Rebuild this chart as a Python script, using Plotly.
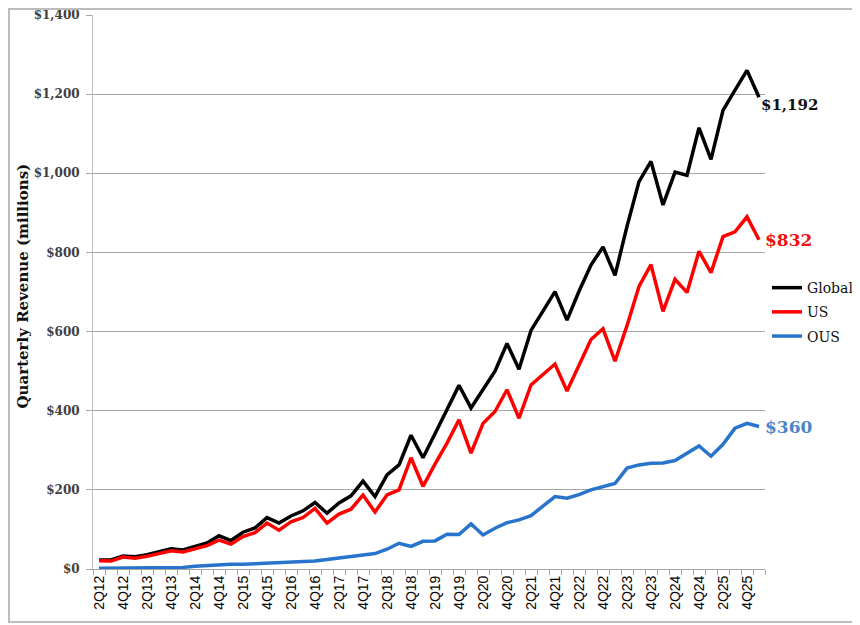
import plotly.graph_objects as go

QUARTERS = [
    '2Q12', '3Q12', '4Q12', '1Q13', '2Q13', '3Q13', '4Q13', '1Q14',
    '2Q14', '3Q14', '4Q14', '1Q15', '2Q15', '3Q15', '4Q15', '1Q16',
    '2Q16', '3Q16', '4Q16', '1Q17', '2Q17', '3Q17', '4Q17', '1Q18',
    '2Q18', '3Q18', '4Q18', '1Q19', '2Q19', '3Q19', '4Q19', '1Q20',
    '2Q20', '3Q20', '4Q20', '1Q21', '2Q21', '3Q21', '4Q21', '1Q22',
    '2Q22', '3Q22', '4Q22', '1Q23', '2Q23', '3Q23', '4Q23', '1Q24',
    '2Q24', '3Q24', '4Q24', '1Q25', '2Q25', '3Q25', '4Q25', '1Q26',
]

GLOBAL_REV = [
    23, 23, 33, 31, 36, 43, 51, 48, 57, 66, 84, 72, 93, 104, 130, 116,
    134, 147, 168, 141, 167, 185, 222, 183, 238, 263, 338, 281, 342, 402,
    464, 407, 452, 500, 570, 505, 603, 653, 701, 629, 702, 768, 814, 742,
    866, 979, 1030, 920, 1003, 995, 1115, 1035, 1159, 1210, 1260, 1192,
]

US_REV = [
    21, 20, 30, 27, 32, 38, 46, 43, 51, 59, 73, 63, 82, 92, 116, 98,
    119, 130, 153, 116, 139, 151, 187, 144, 187, 200, 281, 209, 265, 318,
    377, 293, 368, 398, 453, 381, 465, 491, 518, 450, 515, 580, 607, 525,
    615, 714, 769, 651, 732, 699, 803, 749, 840, 852, 890, 832,
]

OUS_REV = [
    2, 2, 3, 3, 3, 4, 4, 4, 7, 9, 11, 12, 12, 13, 15, 17,
    16, 18, 20, 24, 28, 33, 35, 39, 50, 65, 57, 70, 71, 88,
    87, 114, 86, 103, 117, 124, 135, 159, 183, 179, 188, 200, 208, 216,
    255, 263, 267, 268, 274, 292, 311, 285, 315, 356, 368, 360,
]

SERIES_NAMES = ['Global', 'US', 'OUS']
SERIES_COLORS = ['#000000', '#ff0000', '#2874cc']
LABEL_COLORS = ['#111111', '#ee1111', '#4a86c8']

Y_TICKS = [0, 200, 400, 600, 800, 1000, 1200, 1400]
Y_TICK_TEXT = ['$0', '$200', '$400', '$600', '$800', '$1,000', '$1,200', '$1,400']

SERIF = 'DejaVu Serif, Liberation Serif, serif'

fig = go.Figure()
for name, values, color in zip(SERIES_NAMES, [GLOBAL_REV, US_REV, OUS_REV], SERIES_COLORS):
    fig.add_trace(go.Scatter(
        x=QUARTERS,
        y=values,
        mode='lines',
        name=name,
        legendgroup=name,  # separate groups so tracegroupgap spaces the rows
        line=dict(color=color, width=3.5),
    ))

# end-of-line value labels
label_style = zip([GLOBAL_REV, US_REV, OUS_REV], LABEL_COLORS, [15, 17, 17], [0, 4, 4], [-8, 0, 0])
for values, color, size, xshift, yshift in label_style:
    fig.add_annotation(
        x=QUARTERS[-1], y=values[-1],
        text='<b>${:,}</b>'.format(values[-1]),
        showarrow=False,
        xanchor='left', yanchor='middle',
        xshift=xshift, yshift=yshift,
        font=dict(family=SERIF, size=size, color=color),
    )

# y axis title placed by hand like the excel chart
fig.add_annotation(
    xref='paper', yref='paper',
    x=-70 / 672, y=0.51,
    text='<b>Quarterly Revenue (millions)</b>',
    textangle=-90,
    showarrow=False,
    xanchor='center', yanchor='middle',
    font=dict(family=SERIF, size=15, color='#111111'),
)

# grey frame around the whole chart
fig.add_shape(
    type='rect', xref='paper', yref='paper',
    x0=-84 / 672, x1=764 / 672, y0=-53 / 554, y1=560 / 554,
    line=dict(color='#bdbdbd', width=2),
)

fig.update_layout(
    autosize=False,
    width=852,
    height=617,
    # page body adds 8px, so the figure is a bit smaller and shifted
    margin=dict(l=85, r=95, t=7, b=56, pad=0, autoexpand=False),
    plot_bgcolor='white',
    paper_bgcolor='white',
    showlegend=True,
    legend=dict(
        x=1.003, y=0.536,
        xanchor='left', yanchor='top',
        font=dict(family=SERIF, size=14, color='#111111'),
        bgcolor='rgba(0,0,0,0)',
        tracegroupgap=3,
    ),
    xaxis=dict(
        type='category',
        range=[-0.5, len(QUARTERS) - 0.5],
        tickvals=QUARTERS,
        ticktext=[q if i % 2 == 0 else '' for i, q in enumerate(QUARTERS)],
        tickson='boundaries',
        ticks='outside',
        ticklen=5,
        tickcolor='#a6a6a6',
        tickangle=-90,
        tickfont=dict(family='Liberation Sans, Arial, sans-serif', size=14, color='#000000'),
        showline=True,
        linecolor='#a6a6a6',
        linewidth=1,
        showgrid=False,
        zeroline=False,
        automargin=False,
    ),
    yaxis=dict(
        range=[0, 1400],
        tickvals=Y_TICKS,
        ticktext=Y_TICK_TEXT,
        ticks='outside',
        ticklen=6,
        tickcolor='#a6a6a6',
        ticklabelstandoff=4,
        tickfont=dict(family=SERIF, size=12, color='#404040', weight='bold'),
        showline=True,
        linecolor='#bfbfbf',
        linewidth=1,
        showgrid=True,
        gridcolor='#a6a6a6',
        gridwidth=1,
        zeroline=False,
        automargin=False,
    ),
)

fig.write_html('out.html')
